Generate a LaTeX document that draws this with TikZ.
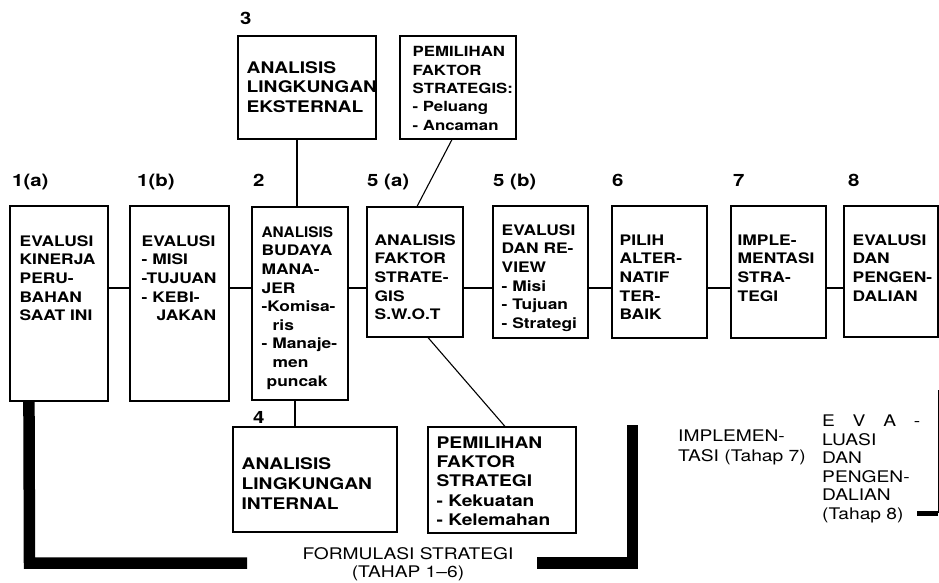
\documentclass[tikz,border=0pt]{standalone}
\usepackage{fontspec}
\setmainfont{TeX Gyre Heros}[FakeStretch=1.2]
\usetikzlibrary{positioning}

\tikzset{
  box/.style={draw,line width=1.1pt,inner sep=0pt},
  boxtxt/.style={align=left,inner sep=0pt,font=\bfseries\fontsize{14.5}{18.6}\selectfont},
  bigtxt/.style={align=left,inner sep=0pt,font=\bfseries\fontsize{16}{19.3}\selectfont},
  num/.style={anchor=north west,inner sep=0pt,font=\bfseries\fontsize{17}{19}\selectfont},
  note/.style={align=left,inner sep=0pt,font=\fontsize{16}{18.6}\selectfont},
  link/.style={line width=1.1pt},
  bar/.style={line width=11.5pt}
}

\begin{document}
\begin{tikzpicture}[x=1pt,y=1pt]
  \useasboundingbox (0,0) rectangle (939,582);

  % Main row of steps
  \node[box,minimum width=98pt,minimum height=195pt] (b1a) at (59,278.5) {};
  \node[box,minimum width=99pt,minimum height=195pt] (b1b) at (179.5,278.5) {};
  \node[box,minimum width=96pt,minimum height=193pt] (b2) at (300,278.5) {};
  \node[box,minimum width=96pt,minimum height=130pt] (b5a) at (415,310) {};
  \node[box,minimum width=95pt,minimum height=132pt] (b5b) at (540.5,310) {};
  \node[box,minimum width=95pt,minimum height=132pt] (b6) at (659.5,310) {};
  \node[box,minimum width=95pt,minimum height=132pt] (b7) at (778.5,310) {};
  \node[box,minimum width=94pt,minimum height=131pt] (b8) at (891,310.5) {};

  % Upper and lower analysis boxes
  \node[box,minimum width=138pt,minimum height=103pt] (b3) at (307,494.5) {};
  \node[box,minimum width=116pt,minimum height=103pt] (pa) at (458,494.5) {};
  \node[box,minimum width=164pt,minimum height=105pt] (b4) at (315,102.5) {};
  \node[box,minimum width=148pt,minimum height=106pt] (pb) at (502,102) {};

  % Box texts
  \node[boxtxt,below right=30pt and 10pt of b1a.north west] (t1a)
    {EVALUSI\\KINERJA\\PERU-\\BAHAN\\SAAT INI};
  \node[boxtxt,below right=30pt and 12pt of b1b.north west] (t1b)
    {EVALUSI\\- MISI\\-TUJUAN\\- KEBI-\\\hspace*{15pt}JAKAN};
  \node[boxtxt,below right=20pt and 10pt of b2.north west] (t2)
    {\scalebox{0.88}[1]{ANALISIS}\\BUDAYA\\MANA-\\JER\\-Komisa-\\\hspace*{11pt}ris\\- Manaje-\\\hspace*{11pt}men\\\hspace*{5pt}puncak};
  \node[boxtxt,below right=28pt and 8pt of b5a.north west] (t5a)
    {ANALISIS\\FAKTOR\\STRATE-\\GIS\\S.W.O.T};
  \node[boxtxt,below right=19pt and 9pt of b5b.north west] (t5b)
    {EVALUSI\\DAN RE-\\VIEW\\- Misi\\- Tujuan\\- Strategi};
  \node[boxtxt,below right=29pt and 8pt of b6.north west] (t6)
    {PILIH\\ALTER-\\NATIF\\TER-\\BAIK};
  \node[boxtxt,below right=29pt and 7pt of b7.north west] (t7)
    {IMPLE-\\MENTASI\\STRA-\\TEGI};
  \node[boxtxt,below right=29pt and 9pt of b8.north west] (t8)
    {EVALUSI\\DAN\\PENGEN-\\DALIAN};
  \node[bigtxt,below right=26pt and 9pt of b3.north west] (t3)
    {ANALISIS\\LINGKUNGAN\\EKSTERNAL};
  \node[boxtxt,below right=11pt and 13pt of pa.north west,font=\bfseries\fontsize{14}{18.3}\selectfont] (tpa)
    {PEMILIHAN\\FAKTOR\\STRATEGIS:\\- Peluang\\- Ancaman};
  \node[bigtxt,below right=31pt and 9pt of b4.north west,font=\bfseries\fontsize{16}{20}\selectfont] (t4)
    {ANALISIS\\LINGKUNGAN\\INTERNAL};
  \node[bigtxt,below right=10pt and 9pt of pb.north west] (tpb)
    {PEMILIHAN\\FAKTOR\\STRATEGI\\- Kekuatan\\- Kelemahan};

  % Step numbers
  \node[num] (n3) at (240,570) {3};
  \node[num] (n1a) at (12,408) {1(a)};
  \node[num] (n1b) at (137,408) {1(b)};
  \node[num] (n2) at (253,408) {2};
  \node[num] (n5a) at (367,408) {5 (a)};
  \node[num] (n5b) at (493,408) {5 (b)};
  \node[num] (n6) at (612,408) {6};
  \node[num] (n7) at (733,408) {7};
  \node[num] (n8) at (848,408) {8};
  \node[num] (n4) at (253,171) {4};

  % Connectors
  \coordinate (row) at (0,294);
  \foreach \a/\b in {b1a/b1b,b1b/b2,b2/b5a,b5a/b5b,b5b/b6,b6/b7,b7/b8}
    \draw[link] (\a.east |- row) -- (\b.west |- row);
  \draw[link] ([xshift=-10pt]b3.south) -- ([xshift=-10pt]b3.south |- b2.north);
  \draw[link] ([xshift=-5pt]b2.south) -- ([xshift=-5pt]b2.south |- b4.north);
  \draw[link] ([xshift=-6pt]pa.south) -- ([xshift=2pt]b5a.north);
  \draw[link] ([xshift=13pt]b5a.south) -- ([xshift=3pt]pb.north);

  % Phase brackets
  \draw[bar] ([xshift=19.5pt]b1a.south west) -- (29.5,19) -- (247,19);
  \draw[bar] (537,19) -- (632.5,19) -- (632.5,157);
  \node[note,align=center,anchor=north] (formulasi) at (408,35)
    {FORMULASI STRATEGI\\(TAHAP 1--6)};

  \node[note,anchor=north west,font=\fontsize{16}{20}\selectfont] (impl) at (678,152)
    {IMPLEMEN-\\TASI (Tahap 7)};
  \node[note,anchor=north west,font=\fontsize{16}{18.5}\selectfont] (evpeng) at (822,167)
    {\makebox[98pt][s]{E V A -}\\LUASI\\DAN\\PENGEN-\\DALIAN\\(Tahap 8)};
  \draw[line width=5pt] (917,69) -- (938,69);
  \draw[line width=0.8pt] (938,69) -- (938,192);
\end{tikzpicture}
\end{document}
